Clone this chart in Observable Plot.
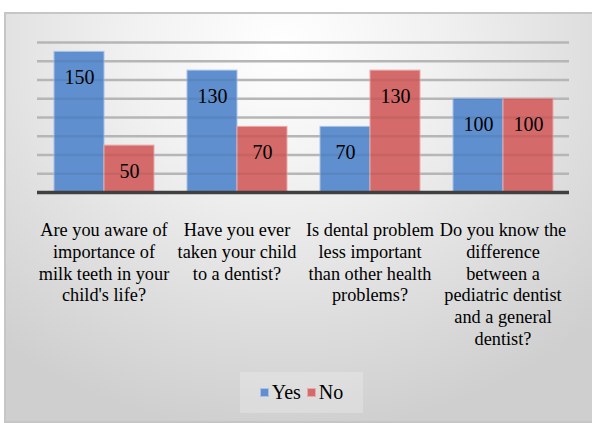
<!DOCTYPE html>
<html>
<head>
<meta charset="utf-8">
<script src="https://cdn.jsdelivr.net/npm/d3@7"></script>
<script src="https://cdn.jsdelivr.net/npm/@observablehq/plot@0.6"></script>
<style>
  html, body { margin: 0; padding: 0; background: #ffffff; }
  #wrap { position: relative; width: 592px; height: 423px; overflow: hidden; font-family: "Liberation Serif", serif; }
  #frame { position: absolute; left: 4px; top: 12px; width: 590px; height: 407px;
    border: 2px solid #c6c6c6; border-right: none;
    background: radial-gradient(ellipse 75% 95% at 47% 8%, #ffffff 0%, #f1f1f1 35%, #dedede 70%, #cfcfcf 100%); }
  #chart { position: absolute; left: 0; top: 0; }
  #legend { position: absolute; left: 240px; top: 372px; width: 123px; height: 41px;
    background: rgba(255,255,255,0.22); display: flex; align-items: center; justify-content: center;
    font-size: 20px; color: #000; font-family: "Liberation Serif", serif; }
  .sw { display: inline-block; width: 9px; height: 9px; margin-right: 3px; }
  .item { display: flex; align-items: center; margin: 0 3px; }
</style>
</head>
<body>
<div id="wrap">
  <div id="frame"></div>
  <div id="chart"></div>
  <div id="legend"></div>
</div>
<script>
const categories = [
  "Are you aware of\nimportance of\nmilk teeth in your\nchild's life?",
  "Have you ever\ntaken your child\nto a dentist?",
  "Is dental problem\nless important\nthan other health\nproblems?",
  "Do you know the\ndifference\nbetween a\npediatric dentist\nand a general\ndentist?"
];
const seriesNames = ["Yes", "No"];
const yesValues = [150, 130, 70, 100];
const noValues = [50, 70, 130, 100];
const gridTicks = [20, 40, 60, 80, 100, 120, 140, 160];

const colors = {Yes: "#5f8fce", No: "#d46a6a"};
const borders = {Yes: "#a9c2e6", No: "#eaa9a9"};
const serif = "'Liberation Serif', serif";

const data = categories.flatMap((c, i) => [
  {category: c, series: "Yes", value: yesValues[i]},
  {category: c, series: "No", value: noValues[i]}
]);
const yesData = data.filter(d => d.series === "Yes");
const noData = data.filter(d => d.series === "No");

const chart = Plot.plot({
  width: 592,
  height: 360,
  marginLeft: 35,
  marginRight: 22,
  marginTop: 42,
  marginBottom: 168,
  style: {background: "none", fontFamily: serif, fontSize: "18px", color: "#000"},
  fx: {domain: categories, paddingInner: 0, paddingOuter: 0, label: null},
  x: {domain: seriesNames, paddingInner: 0, paddingOuter: 0.32, axis: null},
  y: {domain: [0, 160], axis: null},
  marks: [
    Plot.ruleY(gridTicks, {stroke: "#c2c2c2", strokeWidth: 2.5}),
    Plot.barY(yesData, {fx: "category", x: "series", y: "value", fill: colors.Yes, stroke: borders.Yes, strokeWidth: 1}),
    Plot.barY(noData, {fx: "category", x: "series", y: "value", fill: colors.No, stroke: borders.No, strokeWidth: 1}),
    Plot.ruleY(gridTicks, {stroke: "#000", strokeOpacity: 0.06, strokeWidth: 2.5}),
    Plot.ruleY([0], {stroke: "#404040", strokeWidth: 3.5}),
    Plot.text(data, {fx: "category", x: "series", y: "value", text: d => String(d.value), dy: 26, fontSize: 20, fontFamily: serif, lineAnchor: "middle", fill: "#000"}),
    Plot.axisFx({anchor: "bottom", tickSize: 0, tickPadding: 28, lineHeight: 1.19, fontSize: 18.3, fontFamily: serif, fill: "#000", label: null})
  ]
});
document.getElementById("chart").appendChild(chart);

const legend = document.getElementById("legend");
seriesNames.forEach(s => {
  const item = document.createElement("span");
  item.className = "item";
  const sw = document.createElement("span");
  sw.className = "sw";
  sw.style.background = colors[s];
  sw.style.boxShadow = "inset 0 0 0 1px " + borders[s];
  item.appendChild(sw);
  item.appendChild(document.createTextNode(s));
  legend.appendChild(item);
});
</script>
</body>
</html>
